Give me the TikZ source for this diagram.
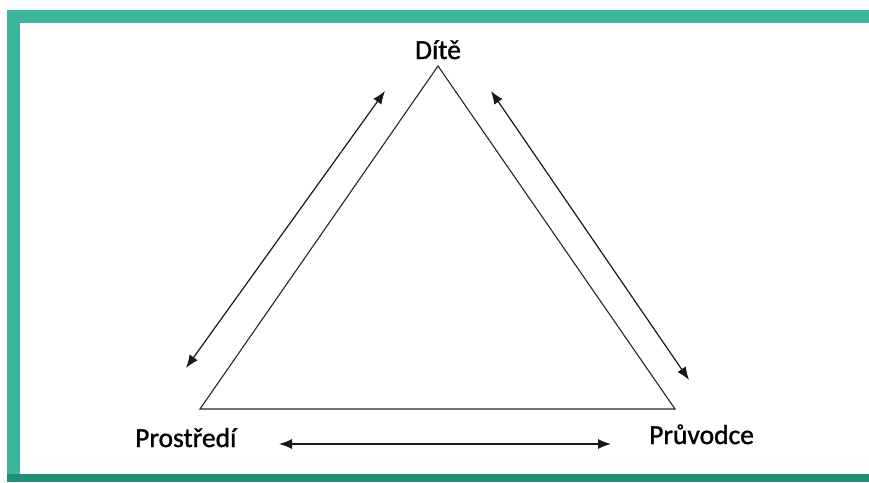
\documentclass[tikz,border=0pt]{standalone}
\usepackage{fontspec}
\setmainfont{Carlito}
\newfontfamily\lblfont[FakeBold=1.2]{Carlito}
\usetikzlibrary{arrows.meta}
\definecolor{teal1}{HTML}{3DB59C}
\definecolor{teal2}{HTML}{1F8F7B}
\begin{document}
\begin{tikzpicture}[x=1pt,y=-1pt,
  edge/.style={line width=1.1pt,draw=black!85},
  dbl/.style={line width=1.2pt,draw=black!90,{Latex[length=13pt,width=10pt]}-{Latex[length=13pt,width=10pt]}},
  lbl/.style={font=\lblfont\fontsize{27.5}{32}\selectfont,inner sep=0pt,text=black}]
\useasboundingbox (0,0) rectangle (869,482);
\fill[white] (0,0) rectangle (869,482);
% frame
\fill[teal1] (7,10) rectangle (869,23);
\fill[teal1] (7,10) rectangle (20,482);
\fill[teal2] (7,474) rectangle (869,482);
% triangle
\coordinate (A) at (438,66);
\coordinate (B) at (200,409);
\coordinate (C) at (675,409);
\draw[edge,line join=miter] (A) -- (B) -- (C) -- cycle;
% arrows
\coordinate (l1) at (186,368);
\coordinate (l2) at (385,91);
\coordinate (r1) at (491,91);
\coordinate (r2) at (689,380);
\coordinate (b1) at (279,444);
\coordinate (b2) at (611,444);
\draw[dbl] (l1) -- (l2);
\draw[dbl] (r1) -- (r2);
\draw[dbl] (b1) -- (b2);
% labels
\node[lbl,anchor=base] (dite) at (438,59) {Dítě};
\node[lbl,anchor=base west] (prostredi) at (135,447) {Prostředí};
\node[lbl,anchor=base west] (pruvodce) at (649,444) {Průvodce};
\end{tikzpicture}
\end{document}
